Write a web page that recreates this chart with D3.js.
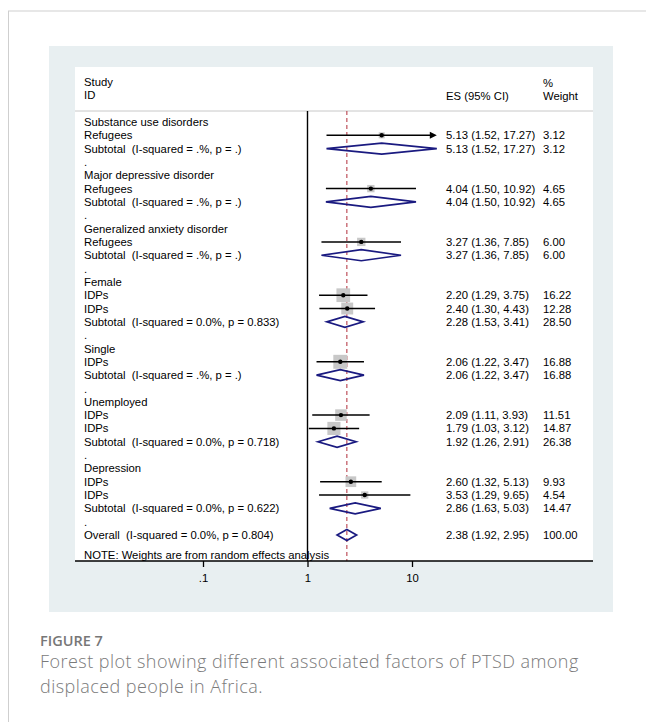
<!DOCTYPE html>
<html lang="en">

<head>
    <meta charset="UTF-8">
    <title>Forest plot</title>
    <script src="https://d3js.org/d3.v7.min.js"></script>
    <style>
        * {
            margin: 0;
            padding: 0;
        }

        body {
            background: #fff;
        }

        .stata text {
            font-family: "Liberation Sans", Arial, sans-serif;
            font-size: 11.3px;
            fill: #000;
            white-space: pre;
        }
    </style>
</head>

<body>
    <script>
        // row labels in the left column
        var rowLabels = [
            "Substance use disorders", "Refugees", "Subtotal  (I-squared = .%, p = .)", ".",
            "Major depressive disorder", "Refugees", "Subtotal  (I-squared = .%, p = .)", ".",
            "Generalized anxiety disorder", "Refugees", "Subtotal  (I-squared = .%, p = .)", ".",
            "Female", "IDPs", "IDPs", "Subtotal  (I-squared = 0.0%, p = 0.833)", ".",
            "Single", "IDPs", "Subtotal  (I-squared = .%, p = .)", ".",
            "Unemployed", "IDPs", "IDPs", "Subtotal  (I-squared = 0.0%, p = 0.718)", ".",
            "Depression", "IDPs", "IDPs", "Subtotal  (I-squared = 0.0%, p = 0.622)", ".",
            "Overall  (I-squared = 0.0%, p = 0.804)"
        ];
        // s = study, t = subtotal / overall diamond, "" = label only
        var rowType = [
            "", "s", "t", "",
            "", "s", "t", "",
            "", "s", "t", "",
            "", "s", "s", "t", "",
            "", "s", "t", "",
            "", "s", "s", "t", "",
            "", "s", "s", "t", "",
            "t"
        ];
        var esValues = [
            null, 5.13, 5.13, null,
            null, 4.04, 4.04, null,
            null, 3.27, 3.27, null,
            null, 2.20, 2.40, 2.28, null,
            null, 2.06, 2.06, null,
            null, 2.09, 1.79, 1.92, null,
            null, 2.60, 3.53, 2.86, null,
            2.38
        ];
        var ciLow = [
            null, 1.52, 1.52, null,
            null, 1.50, 1.50, null,
            null, 1.36, 1.36, null,
            null, 1.29, 1.30, 1.53, null,
            null, 1.22, 1.22, null,
            null, 1.11, 1.03, 1.26, null,
            null, 1.32, 1.29, 1.63, null,
            1.92
        ];
        var ciHigh = [
            null, 17.27, 17.27, null,
            null, 10.92, 10.92, null,
            null, 7.85, 7.85, null,
            null, 3.75, 4.43, 3.41, null,
            null, 3.47, 3.47, null,
            null, 3.93, 3.12, 2.91, null,
            null, 5.13, 9.65, 5.03, null,
            2.95
        ];
        var weights = [
            null, 3.12, 3.12, null,
            null, 4.65, 4.65, null,
            null, 6.00, 6.00, null,
            null, 16.22, 12.28, 28.50, null,
            null, 16.88, 16.88, null,
            null, 11.51, 14.87, 26.38, null,
            null, 9.93, 4.54, 14.47, null,
            100.00
        ];
        var overallES = 2.38;
        var arrowRows = [1];
        var tickValues = [0.1, 1, 10];
        var tickLabels = [".1", "1", "10"];
        var note = "NOTE: Weights are from random effects analysis";

        var svg = d3.select("body").append("svg")
            .attr("width", 646)
            .attr("height", 722);

        // page frame
        svg.append("line").attr("x1", 8).attr("y1", 11).attr("x2", 646).attr("y2", 11)
            .attr("stroke", "#cfcfcf").attr("stroke-width", 1);
        svg.append("line").attr("x1", 8.5).attr("y1", 11).attr("x2", 8.5).attr("y2", 722)
            .attr("stroke", "#cfcfcf").attr("stroke-width", 1);

        // figure panel
        svg.append("rect").attr("x", 49).attr("y", 46).attr("width", 564).attr("height", 566)
            .attr("fill", "#e8eff1");
        svg.append("rect").attr("x", 75).attr("y", 67).attr("width", 518).attr("height", 494)
            .attr("fill", "#fff");

        var g = svg.append("g").attr("class", "stata");

        var x = d3.scaleLog().domain([0.1, 10]).range([203, 412]);
        var y = d3.scaleLinear().domain([0, 31]).range([122, 535]);

        // header
        g.append("text").attr("x", 84).attr("y", 86).text("Study");
        g.append("text").attr("x", 84).attr("y", 99).text("ID");
        g.append("text").attr("x", 446).attr("y", 100).text("ES (95% CI)");
        g.append("text").attr("x", 543).attr("y", 87).text("%");
        g.append("text").attr("x", 543).attr("y", 100).text("Weight");
        g.append("line").attr("x1", 75).attr("x2", 593).attr("y1", 111).attr("y2", 111)
            .attr("stroke", "#c8c8c8").attr("stroke-width", 1);

        // null line and overall line
        g.append("line").attr("x1", x(1)).attr("x2", x(1)).attr("y1", 111).attr("y2", 561)
            .attr("stroke", "#000").attr("stroke-width", 1.4);
        g.append("line").attr("x1", x(overallES)).attr("x2", x(overallES)).attr("y1", 111).attr("y2", 561)
            .attr("stroke", "#b8404c").attr("stroke-width", 1.1).attr("stroke-dasharray", "4,3");

        var rows = rowLabels.map(function (d, i) {
            return { i: i, label: d, type: rowType[i], es: esValues[i], lo: ciLow[i], hi: ciHigh[i], w: weights[i] };
        });
        var studies = rows.filter(function (d) { return d.type === "s"; });
        var pooled = rows.filter(function (d) { return d.type === "t"; });

        // labels
        g.selectAll(".lab").data(rows).enter().append("text")
            .attr("class", "lab")
            .attr("x", 84)
            .attr("y", function (d) { return y(d.i); })
            .attr("dy", "0.36em")
            .text(function (d) { return d.label; });

        // weight boxes
        var k = 3.4;
        g.selectAll(".box").data(studies).enter().append("rect")
            .attr("class", "box")
            .attr("x", function (d) { return x(d.es) - k * Math.sqrt(d.w) / 2; })
            .attr("y", function (d) { return y(d.i) - k * Math.sqrt(d.w) / 2; })
            .attr("width", function (d) { return k * Math.sqrt(d.w); })
            .attr("height", function (d) { return k * Math.sqrt(d.w); })
            .attr("fill", "#c8c8c8");

        // confidence intervals
        g.selectAll(".ci").data(studies).enter().append("line")
            .attr("class", "ci")
            .attr("x1", function (d) { return x(d.lo); })
            .attr("x2", function (d) {
                return arrowRows.indexOf(d.i) >= 0 ? x(d.hi) - 5 : x(d.hi);
            })
            .attr("y1", function (d) { return y(d.i); })
            .attr("y2", function (d) { return y(d.i); })
            .attr("stroke", "#000").attr("stroke-width", 1.5);

        g.selectAll(".arrow").data(studies.filter(function (d) { return arrowRows.indexOf(d.i) >= 0; }))
            .enter().append("path")
            .attr("class", "arrow")
            .attr("d", function (d) {
                var xe = x(d.hi), yc = y(d.i);
                return "M" + xe + "," + yc + "L" + (xe - 7) + "," + (yc - 3.5) + "L" + (xe - 7) + "," + (yc + 3.5) + "Z";
            })
            .attr("fill", "#000");

        g.selectAll(".dot").data(studies).enter().append("circle")
            .attr("class", "dot")
            .attr("cx", function (d) { return x(d.es); })
            .attr("cy", function (d) { return y(d.i); })
            .attr("r", 2.2)
            .attr("fill", "#000");

        // diamonds
        g.selectAll(".diamond").data(pooled).enter().append("path")
            .attr("class", "diamond")
            .attr("d", function (d) {
                var yc = y(d.i), h = 5.5;
                return "M" + x(d.lo) + "," + yc + "L" + x(d.es) + "," + (yc - h) +
                    "L" + x(d.hi) + "," + yc + "L" + x(d.es) + "," + (yc + h) + "Z";
            })
            .attr("fill", "none")
            .attr("stroke", "#1a1a80")
            .attr("stroke-width", 1.7);

        // numbers on the right
        var fmt = d3.format(".2f");
        var numRows = rows.filter(function (d) { return d.es !== null; });
        g.selectAll(".esText").data(numRows).enter().append("text")
            .attr("class", "esText")
            .attr("x", 446)
            .attr("y", function (d) { return y(d.i); })
            .attr("dy", "0.36em")
            .text(function (d) { return fmt(d.es) + " (" + fmt(d.lo) + ", " + fmt(d.hi) + ")"; });
        g.selectAll(".wText").data(numRows).enter().append("text")
            .attr("class", "wText")
            .attr("x", 543)
            .attr("y", function (d) { return y(d.i); })
            .attr("dy", "0.36em")
            .text(function (d) { return fmt(d.w); });

        g.append("text").attr("x", 84).attr("y", 555).attr("dy", "0.36em").text(note);

        // x axis
        g.append("line").attr("x1", 75).attr("x2", 593).attr("y1", 561).attr("y2", 561)
            .attr("stroke", "#000").attr("stroke-width", 1.4);
        var axis = d3.axisBottom(x)
            .tickValues(tickValues)
            .tickFormat(function (d, i) { return tickLabels[i]; })
            .tickSize(6)
            .tickPadding(7);
        var ax = g.append("g").attr("transform", "translate(0,561)").call(axis);
        ax.select(".domain").remove();
        ax.selectAll("line").attr("stroke", "#000").attr("stroke-width", 1.3);
        ax.selectAll("text").attr("font-family", null).attr("font-size", null).attr("fill", "#000");

        // caption
        svg.append("text").attr("x", 40).attr("y", 646)
            .attr("font-family", "'Open Sans', sans-serif").attr("font-weight", 600)
            .attr("font-size", "14.5px").attr("fill", "#777")
            .text("FIGURE 7");
        var caption = ["Forest plot showing different associated factors of PTSD among",
            "displaced people in Africa."];
        svg.selectAll(".cap").data(caption).enter().append("text")
            .attr("class", "cap")
            .attr("x", 40)
            .attr("y", function (d, i) { return 668 + i * 25; })
            .attr("font-family", "'Open Sans', sans-serif").attr("font-weight", 300)
            .attr("font-size", "18px").attr("letter-spacing", "0.45px").attr("fill", "#7a7a7a")
            .text(function (d) { return d; });
    </script>
</body>

</html>
